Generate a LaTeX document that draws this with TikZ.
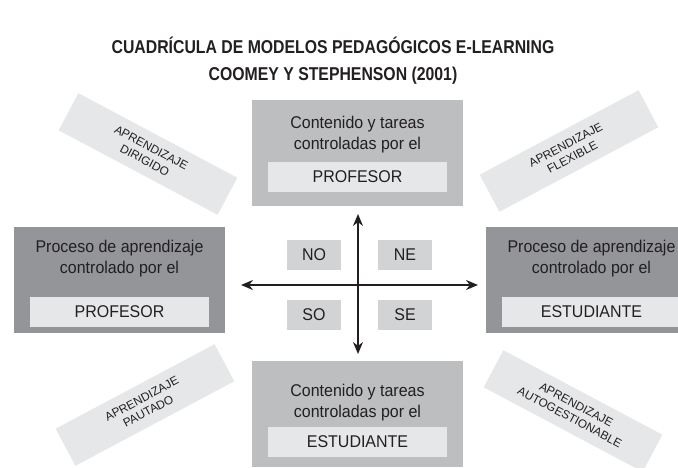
\documentclass[tikz,border=0pt]{standalone}
\usepackage{fontspec}
\setmainfont{Liberation Sans}
\newfontfamily\titlefont[FakeStretch=0.85]{Liberation Sans}
\newfontfamily\bodyfont[FakeStretch=0.94]{Liberation Sans}
\newfontfamily\labfont{Liberation Sans}
\usetikzlibrary{arrows.meta}
\definecolor{cTop}{HTML}{BCBEC0}
\definecolor{cSide}{HTML}{939598}
\definecolor{cInner}{HTML}{E6E7E8}
\definecolor{cQuad}{HTML}{D1D3D4}
\definecolor{cText}{HTML}{231F20}
\tikzset{
  outerbox/.style={fill=#1, draw=none, minimum width=211pt, minimum height=106pt, inner sep=0pt},
  innerbox/.style={fill=cInner, draw=none, minimum width=179pt, minimum height=30pt, inner sep=0pt,
                   text=cText, font=\bodyfont\fontsize{17}{21}\selectfont},
  boxtext/.style={text=cText, align=center, inner sep=0pt, font=\bodyfont\fontsize{17}{21}\selectfont},
  quad/.style={fill=cQuad, draw=none, minimum width=54pt, minimum height=30pt, inner sep=0pt,
               text=cText, font=\bodyfont\fontsize{17}{21}\selectfont},
  diag/.style={fill=cInner, draw=none, minimum width=180pt, minimum height=42pt, inner sep=0pt,
               align=center, text=cText, font=\labfont\fontsize{11.8}{14}\selectfont},
  axis/.style={draw=cText, line width=1.8pt, {Stealth[length=12pt,width=10pt]}-{Stealth[length=12pt,width=10pt]}},
  titletext/.style={text=cText, align=center, inner sep=0pt, font=\titlefont\bfseries\fontsize{18.6}{27}\selectfont}
}
\begin{document}
\begin{tikzpicture}[x=1pt,y=-1pt]
\useasboundingbox (0,0) rectangle (678,468);
\clip (0,0) rectangle (678,468);
% title
\node[titletext] (title) at (333,60.5) {CUADRÍCULA DE MODELOS PEDAGÓGICOS E-LEARNING\\COOMEY Y STEPHENSON (2001)};
% diagonal labels
\node[diag, rotate=-28] (nw) at (148,154) {APRENDIZAJE\\DIRIGIDO};
\node[diag, rotate=28] (ne) at (569,151) {APRENDIZAJE\\FLEXIBLE};
\node[diag, rotate=28] (sw) at (145,405) {APRENDIZAJE\\PAUTADO};
\node[diag, rotate=-28] (se) at (573,411) {APRENDIZAJE\\AUTOGESTIONABLE};
% top box
\node[outerbox=cTop] (top) at (357.5,153) {};
\node[boxtext] (toptxt) at (357.5,134.5) {Contenido y tareas\\controladas por el};
\node[innerbox] (topin) at (357.5,177) {PROFESOR};
% bottom box
\node[outerbox=cTop] (bot) at (357.5,414) {};
\node[boxtext] (bottxt) at (357.5,402.5) {Contenido y tareas\\controladas por el};
\node[innerbox] (botin) at (357.5,441.5) {ESTUDIANTE};
% left box
\node[outerbox=cSide] (left) at (119.5,280) {};
\node[boxtext] (lefttxt) at (119.5,258.5) {Proceso de aprendizaje\\controlado por el};
\node[innerbox] (leftin) at (119.5,312) {PROFESOR};
% right box
\node[outerbox=cSide] (right) at (591.5,280) {};
\node[boxtext] (righttxt) at (591.5,258.5) {Proceso de aprendizaje\\controlado por el};
\node[innerbox] (rightin) at (591.5,312) {ESTUDIANTE};
% quadrants
\node[quad] (no) at (314,255) {NO};
\node[quad] (nee) at (405,255) {NE};
\node[quad] (so) at (314,315) {SO};
\node[quad] (see) at (405,315) {SE};
% axes
\coordinate (vt) at (358,214);
\coordinate (vb) at (358,354);
\coordinate (hl) at (241,285);
\coordinate (hr) at (478,285);
\draw[axis] (vt) -- (vb);
\draw[axis] (hl) -- (hr);
\end{tikzpicture}
\end{document}
